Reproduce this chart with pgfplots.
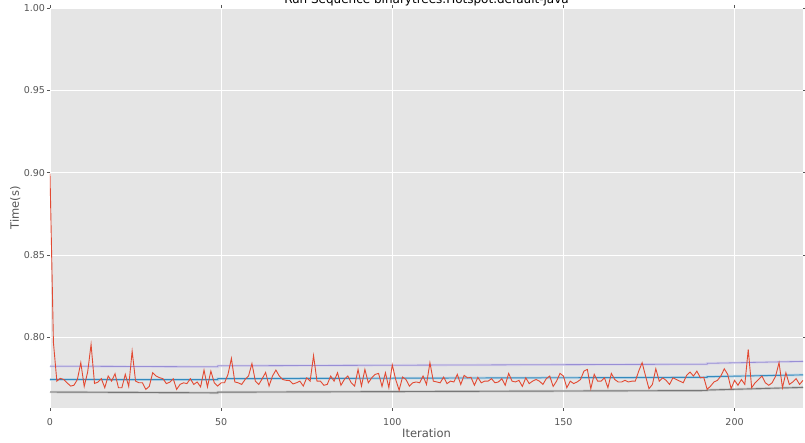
\documentclass[border=0pt]{standalone}
\usepackage{fontspec}
\setmainfont{DejaVu Sans}
\usepackage{pgfplots}
\usepackage{pgfplotstable}
\pgfplotsset{compat=1.18}
\definecolor{bg}{HTML}{E5E5E5}
\definecolor{ggred}{HTML}{E24A33}
\definecolor{ggblue}{HTML}{348ABD}
\definecolor{ggpurple}{HTML}{988ED5}
\definecolor{gggray}{HTML}{777777}
\definecolor{txt}{HTML}{555555}
\pgfplotstableread{
i t
0 0.8995
1 0.797
2 0.7735
3 0.7752
4 0.7745
5 0.7725
6 0.7705
7 0.771
8 0.7745
9 0.7847
10 0.7703
11 0.7790
12 0.7958
13 0.7721
14 0.7729
15 0.775
16 0.7695
17 0.7766
18 0.7735
19 0.778
20 0.7695
21 0.7695
22 0.7776
23 0.7703
24 0.7917
25 0.7735
26 0.7725
27 0.7725
28 0.7685
29 0.7703
30 0.7786
31 0.7766
32 0.7756
33 0.775
34 0.772
35 0.7729
36 0.775
37 0.7685
38 0.7715
39 0.7725
40 0.772
41 0.775
42 0.7715
43 0.773
44 0.770
45 0.7802
46 0.770
47 0.7796
48 0.7725
49 0.7705
50 0.7725
51 0.7725
52 0.7776
53 0.7873
54 0.773
55 0.7725
56 0.7715
57 0.7745
58 0.7766
59 0.7842
60 0.7735
61 0.7715
62 0.775
63 0.7788
64 0.7705
65 0.7766
66 0.7802
67 0.7766
68 0.7745
69 0.774
70 0.7738
71 0.7718
72 0.7725
73 0.7735
74 0.7705
75 0.7755
76 0.7735
77 0.789
78 0.7735
79 0.7735
80 0.771
81 0.7715
82 0.7766
83 0.7735
84 0.7786
85 0.771
86 0.7745
87 0.7766
88 0.7725
89 0.7705
90 0.7806
91 0.7705
92 0.7806
93 0.7725
94 0.7755
95 0.7776
96 0.7782
97 0.7703
98 0.7786
99 0.7695
100 0.7834
101 0.7745
102 0.768
103 0.776
104 0.7745
105 0.7705
106 0.7725
107 0.773
108 0.7725
109 0.7766
110 0.7715
111 0.7847
112 0.7735
113 0.773
114 0.7725
115 0.776
116 0.772
117 0.7735
118 0.773
119 0.7776
120 0.7715
121 0.777
122 0.7755
123 0.7758
124 0.771
125 0.7758
126 0.7725
127 0.7735
128 0.7735
129 0.775
130 0.7725
131 0.773
132 0.775
133 0.771
134 0.7782
135 0.7735
136 0.773
137 0.774
138 0.7703
139 0.7755
140 0.772
141 0.7735
142 0.7745
143 0.7735
144 0.7715
145 0.775
146 0.7766
147 0.7703
148 0.7735
149 0.7782
150 0.7766
151 0.7695
152 0.7735
153 0.772
154 0.773
155 0.7745
156 0.7796
157 0.7806
158 0.7689
159 0.7776
160 0.7735
161 0.7735
162 0.7755
163 0.7695
164 0.7782
165 0.7745
166 0.773
167 0.773
168 0.774
169 0.773
170 0.7735
171 0.7735
172 0.7796
173 0.7847
174 0.7766
175 0.7689
176 0.7715
177 0.781
178 0.7735
179 0.7755
180 0.774
181 0.7715
182 0.7755
183 0.7745
184 0.7735
185 0.7725
186 0.777
187 0.779
188 0.7766
189 0.7796
190 0.7755
191 0.7758
192 0.7685
193 0.7705
194 0.773
195 0.774
196 0.7766
197 0.781
198 0.7776
199 0.7689
200 0.774
201 0.771
202 0.7745
203 0.7715
204 0.7927
205 0.7695
206 0.7725
207 0.7745
208 0.7766
209 0.7725
210 0.771
211 0.7725
212 0.7766
213 0.7847
214 0.7695
215 0.7786
216 0.7715
217 0.773
218 0.775
219 0.7715
220 0.7740
}\tabRuns
\pgfplotstableread{
i u
0 0.7826
49 0.7822
49 0.7828
192 0.7838
192 0.7843
220 0.7855
}\tabUp
\pgfplotstableread{
i m
0 0.7745
49 0.7744
49 0.7750
192 0.7758
192 0.7762
220 0.7773
}\tabMid
\pgfplotstableread{
i l
0 0.7669
49 0.7664
49 0.7668
192 0.7678
192 0.7681
220 0.7697
}\tabLow
\begin{document}
\begin{tikzpicture}
\useasboundingbox (-50pt,-35pt) rectangle (755pt,408pt);
\clip (-50pt,-35pt) rectangle (755pt,408pt);
\begin{axis}[
  at={(0pt,0pt)}, anchor=south west,
  width=753pt, height=400pt, scale only axis,
  xmin=0, xmax=220, ymin=0.7572, ymax=1.0,
  axis background/.style={fill=bg},
  axis line style={draw=none},
  grid=major,
  major grid style={white, line width=1.1pt},
  tick align=outside,
  major tick length=3pt,
  tick style={color=txt, line width=0.5pt},
  xtick={0,50,100,150,200},
  ytick={0.80,0.85,0.90,0.95,1.00},
  xticklabel={\pgfmathprintnumber[assume math mode=true]{\tick}},
  yticklabel={\pgfmathprintnumber[fixed,fixed zerofill,precision=2,assume math mode=true]{\tick}},
  ticklabel style={font=\fontsize{9.5}{11}\selectfont, text=txt},
  xticklabel style={yshift=-4pt},
  yticklabel style={xshift=1.5pt},
  xlabel={Iteration}, ylabel={Time(s)},
  label style={font=\fontsize{11.5}{13}\selectfont, text=txt},
  xlabel style={at={(axis description cs:0.5,0)}, anchor=base, yshift=-30pt},
  ylabel style={at={(axis description cs:-0.0412,0.5)}, anchor=base},
  title={Run Sequence binarytrees.Hotspot.default-java},
  title style={at={(axis description cs:0.5,1)}, anchor=base, yshift=-2pt, font=\fontsize{12}{14}\selectfont, text=black},
  clip=true,
]
\addplot[draw=ggpurple!45, line width=2.4pt, opacity=0.7] table[x=i,y=u] {\tabUp};
\addplot[draw=ggpurple, line width=0.8pt] table[x=i,y=u] {\tabUp};
\addplot[draw=ggblue!40, line width=2.6pt, opacity=0.8] table[x=i,y=m] {\tabMid};
\addplot[draw=ggblue, line width=0.9pt] table[x=i,y=m] {\tabMid};
\addplot[draw=gggray!50, line width=2.4pt, opacity=0.7] table[x=i,y=l] {\tabLow};
\addplot[draw=gggray, line width=0.9pt] table[x=i,y=l] {\tabLow};
\addplot[draw=ggred, line width=0.9pt] table[x=i,y=t] {\tabRuns};
\end{axis}
\end{tikzpicture}
\end{document}
